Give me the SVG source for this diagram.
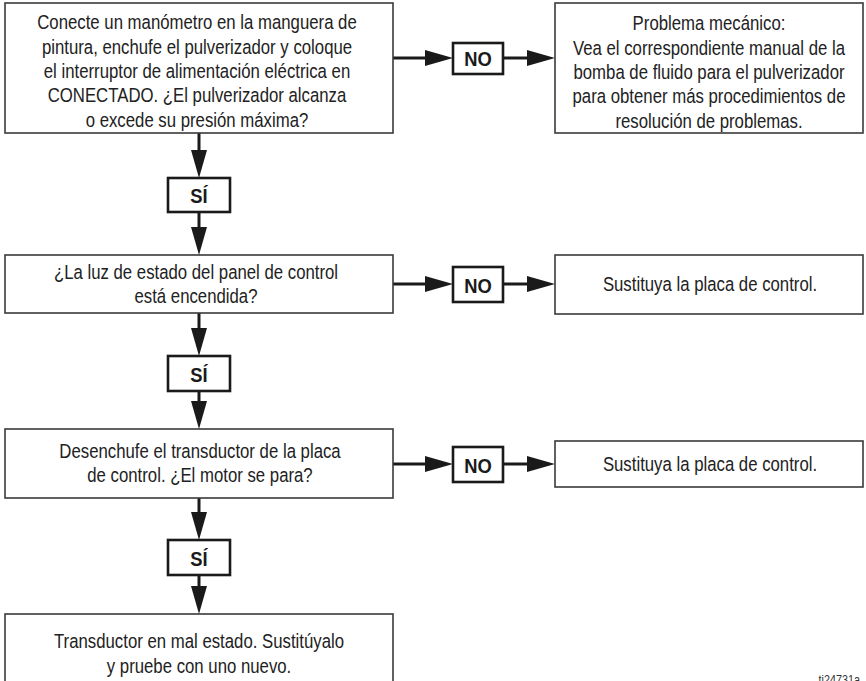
<svg xmlns="http://www.w3.org/2000/svg" width="866" height="681" viewBox="0 0 866 681">
<style>
.box{fill:#fff;stroke:#3a3a3a;stroke-width:1.6}
.lbl{fill:#fff;stroke:#1a1a1a;stroke-width:2.6}
.t{font-family:"Liberation Sans",Arial,sans-serif;font-size:19.5px;fill:#222;text-anchor:middle}
.b{font-family:"Liberation Sans",Arial,sans-serif;font-size:20px;font-weight:bold;fill:#1a1a1a;text-anchor:middle}
.c{stroke:#1a1a1a;stroke-width:3;fill:none;marker-end:url(#ah)}
.id{font-family:"Liberation Sans",Arial,sans-serif;font-size:12px;fill:#333}
</style>
<defs>
<marker id="ah" markerUnits="userSpaceOnUse" markerWidth="28" markerHeight="16" viewBox="0 0 28 16" refX="18" refY="8" orient="auto">
<path d="M0,0 L28,8 L0,16 Z" fill="#1a1a1a"/>
</marker>
</defs>
<rect width="866" height="681" fill="#fff"/>
<g id="connectors">
<line class="c" x1="199" y1="133" x2="199" y2="168"/>
<line class="c" x1="199" y1="212" x2="199" y2="245"/>
<line class="c" x1="199" y1="313" x2="199" y2="346"/>
<line class="c" x1="199" y1="391" x2="199" y2="419"/>
<line class="c" x1="199" y1="498" x2="199" y2="530"/>
<line class="c" x1="199" y1="575" x2="199" y2="604"/>
<line class="c" x1="393" y1="58" x2="443" y2="58"/>
<line class="c" x1="503" y1="58" x2="545" y2="58"/>
<line class="c" x1="393" y1="284" x2="443" y2="284"/>
<line class="c" x1="503" y1="284" x2="545" y2="284"/>
<line class="c" x1="393" y1="464" x2="443" y2="464"/>
<line class="c" x1="503" y1="464" x2="545" y2="464"/>
</g>
<g id="q1">
<rect class="box" x="5" y="3" width="388" height="130"/>
<g transform="translate(197,0) scale(0.86,1)">
<text class="t" x="0" y="29.5">Conecte un manómetro en la manguera de</text>
<text class="t" x="0" y="53.8">pintura, enchufe el pulverizador y coloque</text>
<text class="t" x="0" y="78.1">el interruptor de alimentación eléctrica en</text>
<text class="t" x="0" y="102.4">CONECTADO. ¿El pulverizador alcanza</text>
<text class="t" x="0" y="126.7">o excede su presión máxima?</text>
</g>
</g>
<g id="no1">
<rect class="lbl" x="453" y="43" width="50" height="31"/>
<text class="b" transform="translate(478,65.5) scale(0.92,1)">NO</text>
</g>
<g id="r1">
<rect class="box" x="555" y="3" width="308" height="130"/>
<g transform="translate(709,0) scale(0.86,1)">
<text class="t" x="0" y="30.5">Problema mecánico:</text>
<text class="t" x="0" y="54.8">Vea el correspondiente manual de la</text>
<text class="t" x="0" y="79.1">bomba de fluido para el pulverizador</text>
<text class="t" x="0" y="103.4">para obtener más procedimientos de</text>
<text class="t" x="0" y="127.7">resolución de problemas.</text>
</g>
</g>
<g id="si1">
<rect class="lbl" x="168" y="178" width="62" height="34"/>
<text class="b" transform="translate(199,203) scale(0.92,1)">SÍ</text>
</g>
<g id="q2">
<rect class="box" x="5" y="255" width="388" height="58"/>
<g transform="translate(196,0) scale(0.86,1)">
<text class="t" x="0" y="279">¿La luz de estado del panel de control</text>
<text class="t" x="0" y="303">está encendida?</text>
</g>
</g>
<g id="no2">
<rect class="lbl" x="453" y="267" width="50" height="35"/>
<text class="b" transform="translate(478,292.5) scale(0.92,1)">NO</text>
</g>
<g id="r2">
<rect class="box" x="555" y="255" width="308" height="59"/>
<text class="t" transform="translate(710,291) scale(0.86,1)">Sustituya la placa de control.</text>
</g>
<g id="si2">
<rect class="lbl" x="168" y="356" width="62" height="35"/>
<text class="b" transform="translate(199,381.5) scale(0.92,1)">SÍ</text>
</g>
<g id="q3">
<rect class="box" x="5" y="429" width="388" height="69"/>
<g transform="translate(200,0) scale(0.86,1)">
<text class="t" x="0" y="458">Desenchufe el transductor de la placa</text>
<text class="t" x="0" y="482">de control. ¿El motor se para?</text>
</g>
</g>
<g id="no3">
<rect class="lbl" x="453" y="447" width="50" height="35"/>
<text class="b" transform="translate(478,472.5) scale(0.92,1)">NO</text>
</g>
<g id="r3">
<rect class="box" x="555" y="441" width="308" height="46"/>
<text class="t" transform="translate(710,471) scale(0.86,1)">Sustituya la placa de control.</text>
</g>
<g id="si3">
<rect class="lbl" x="168" y="540" width="62" height="35"/>
<text class="b" transform="translate(199,565.5) scale(0.92,1)">SÍ</text>
</g>
<g id="end">
<rect class="box" x="5" y="614" width="388" height="90"/>
<g transform="translate(199,0) scale(0.86,1)">
<text class="t" x="0" y="648">Transductor en mal estado. Sustitúyalo</text>
<text class="t" x="0" y="673">y pruebe con uno nuevo.</text>
</g>
</g>
<text class="id" x="860" y="684" text-anchor="end" transform="translate(860,0) scale(0.9,1) translate(-860,0)">ti24731a</text>
</svg>
